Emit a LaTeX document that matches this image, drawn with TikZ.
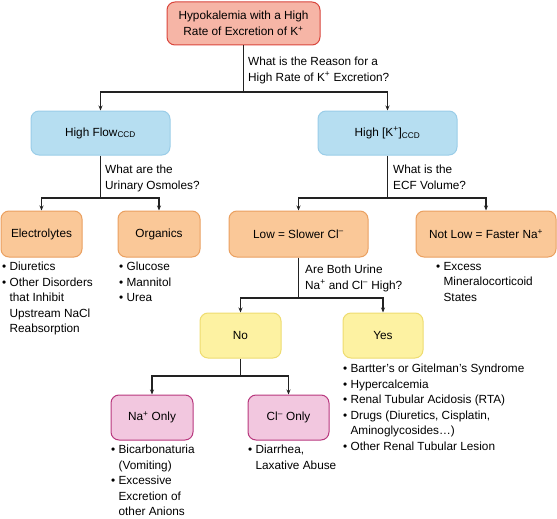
\documentclass[tikz,border=0pt]{standalone}
\usepackage{fontspec}
\setmainfont{Liberation Sans}
\usetikzlibrary{arrows.meta,calc}
\definecolor{redfill}{HTML}{F6B5A6}
\definecolor{reddraw}{HTML}{D9453C}
\definecolor{bluefill}{HTML}{B6DEF1}
\definecolor{bluedraw}{HTML}{9ACDE8}
\definecolor{orfill}{HTML}{FAC898}
\definecolor{ordraw}{HTML}{EAA060}
\definecolor{yelfill}{HTML}{FDF2A2}
\definecolor{yeldraw}{HTML}{EEDC70}
\definecolor{pinkfill}{HTML}{F2C7DF}
\definecolor{pinkdraw}{HTML}{B8387E}
\definecolor{linecol}{HTML}{222222}
\newcommand\bul{\textbullet\ }
\newcommand\ind{\phantom{\textbullet\ }}
\begin{document}
\begin{tikzpicture}[x=1pt,y=1pt,
  every node/.style={font=\fontsize{11.8}{15.5}\selectfont, text=black},
  box/.style={rounded corners=8pt, line width=1pt, align=center, inner sep=2pt},
  redbox/.style={box, fill=redfill, draw=reddraw},
  bluebox/.style={box, fill=bluefill, draw=bluedraw},
  orbox/.style={box, fill=orfill, draw=ordraw},
  yelbox/.style={box, fill=yelfill, draw=yeldraw},
  pinkbox/.style={box, fill=pinkfill, draw=pinkdraw},
  txt/.style={anchor=north west, inner sep=0pt, align=left},
  conn/.style={draw=linecol, line width=1.2pt},
  arr/.style={conn, -{Stealth[length=5pt,width=4pt]}}]
\useasboundingbox (0,0) rectangle (557,-519);

\node[redbox, minimum width=153pt, minimum height=43pt] (top) at (243.5,-23.5) {Hypokalemia with a High\\Rate of Excretion of K\textsuperscript{+}};
\node[bluebox, minimum width=139pt, minimum height=44pt] (hf) at (100.5,-133) {High Flow\textsubscript{CCD}};
\node[bluebox, minimum width=139pt, minimum height=44pt] (hk) at (387.5,-133) {High [K\textsuperscript{+}]\textsubscript{CCD}};
\node[orbox, minimum width=81pt, minimum height=46pt] (el) at (41.5,-234) {Electrolytes};
\node[orbox, minimum width=82pt, minimum height=46pt] (org) at (159,-234) {Organics};
\node[orbox, minimum width=139pt, minimum height=46pt] (lo) at (298.5,-234) {Low = Slower Cl\textsuperscript{\textendash}};
\node[orbox, minimum width=140pt, minimum height=46pt] (nl) at (486,-234) {Not Low = Faster Na\textsuperscript{+}};
\node[yelbox, minimum width=81pt, minimum height=45pt] (no) at (240.5,-335.5) {No};
\node[yelbox, minimum width=80pt, minimum height=45pt] (yes) at (383,-335.5) {Yes};
\node[pinkbox, minimum width=82pt, minimum height=45pt] (na) at (152,-417.5) {Na\textsuperscript{+} Only};
\node[pinkbox, minimum width=81pt, minimum height=45pt] (cl) at (288.5,-417.5) {Cl\textsuperscript{\textendash} Only};

% question labels
\node[txt] (q1) at (248,-57) {What is the Reason for a\\High Rate of K\textsuperscript{+} Excretion?};
\node[txt] (q2) at (105,-165) {What are the\\Urinary Osmoles?};
\node[txt] (q3) at (393,-165) {What is the\\ECF Volume?};
\node[txt] (q4) at (305,-265) {Are Both Urine\\Na\textsuperscript{+} and Cl\textsuperscript{\textendash} High?};

% bullet lists
\node[txt] (l1) at (2,-262) {\bul Diuretics\\\bul Other Disorders\\\ind that Inhibit\\\ind Upstream NaCl\\\ind Reabsorption};
\node[txt] (l2) at (119,-262) {\bul Glucose\\\bul Mannitol\\\bul Urea};
\node[txt] (l3) at (436,-262) {\bul Excess\\\ind Mineralocorticoid\\\ind States};
\node[txt] (l4) at (343,-364) {\bul Bartter’s or Gitelman’s Syndrome\\\bul Hypercalcemia\\\bul Renal Tubular Acidosis (RTA)\\\bul Drugs (Diuretics, Cisplatin,\\\ind Aminoglycosides…)\\\bul Other Renal Tubular Lesion};
\node[txt] (l5) at (111,-445) {\bul Bicarbonaturia\\\ind (Vomiting)\\\bul Excessive\\\ind Excretion of\\\ind other Anions};
\node[txt] (l6) at (248,-445) {\bul Diarrhea,\\\ind Laxative Abuse};

% connectors
\coordinate (j1) at (243.5,-92);
\coordinate (j2) at (100.5,-198);
\coordinate (j3) at (387.5,-198);
\coordinate (j4) at (298.5,-298);
\coordinate (j5) at (240.5,-376);
\draw[conn] (top.south) -- (j1);
\draw[arr] (j1) -| (hf.north);
\draw[arr] (j1) -| (hk.north);
\draw[conn] (hf.south) -- (j2);
\draw[arr] (j2) -| (el.north);
\draw[arr] (j2) -| (org.north);
\draw[conn] (hk.south) -- (j3);
\draw[arr] (j3) -| (lo.north);
\draw[arr] (j3) -| (nl.north);
\draw[conn] (lo.south) -- (j4);
\draw[arr] (j4) -| (no.north);
\draw[arr] (j4) -| (yes.north);
\draw[conn] (no.south) -- (j5);
\draw[arr] (j5) -| (na.north);
\draw[arr] (j5) -| (cl.north);
\end{tikzpicture}
\end{document}
